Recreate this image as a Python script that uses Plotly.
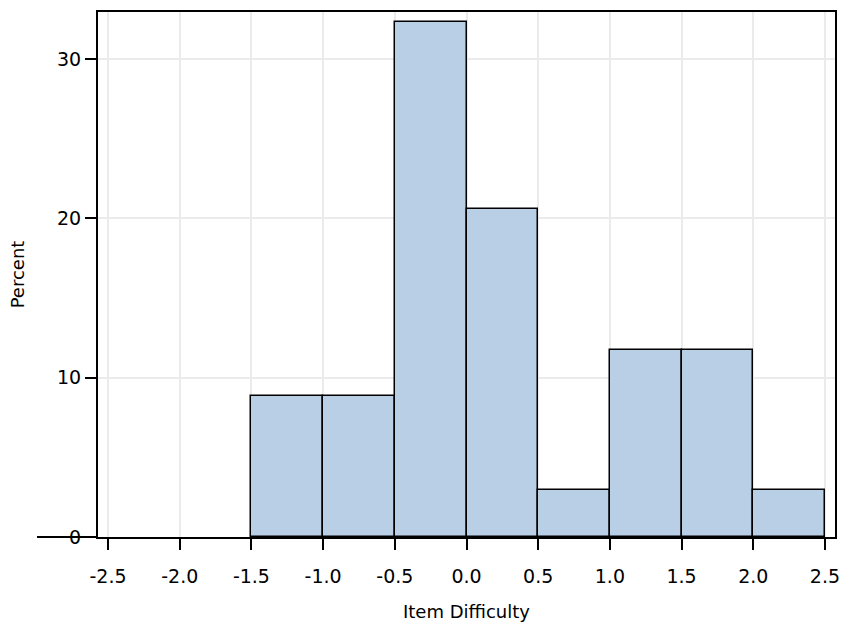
import plotly.graph_objects as go

bin_starts = [-1.5, -1.0, -0.5, 0.0, 0.5, 1.0, 1.5, 2.0]
bin_width = 0.5
percents = [8.82, 8.82, 32.35, 20.59, 2.94, 11.76, 11.76, 2.94]
x_ticks = [-2.5, -2.0, -1.5, -1.0, -0.5, 0.0, 0.5, 1.0, 1.5, 2.0, 2.5]
x_tick_labels = ["-2.5", "-2.0", "-1.5", "-1.0", "-0.5", "0.0", "0.5", "1.0", "1.5", "2.0", "2.5"]
y_ticks = [0, 10, 20, 30]

centers = [s + bin_width / 2 for s in bin_starts]

fig = go.Figure()
fig.add_trace(go.Bar(
    x=centers, y=percents, width=[bin_width] * len(centers),
    marker=dict(color="#b8cfe6", line=dict(color="black", width=1.5)),
    hoverinfo="x+y",
))

font = dict(family="DejaVu Sans", size=18, color="black")
tickfont = dict(family="DejaVu Sans", size=19, color="black")
fig.update_layout(
    width=846, height=630,
    margin=dict(l=98, r=11, t=12, b=93),
    plot_bgcolor="white", paper_bgcolor="white",
    font=font, showlegend=False, bargap=0,
    xaxis=dict(
        range=[-2.57, 2.57], tickvals=x_ticks, ticktext=x_tick_labels,
        tickfont=tickfont, ticklabelstandoff=10,
        showgrid=True, gridcolor="#ebebeb", gridwidth=2,
        showline=True, linecolor="black", linewidth=2, mirror=True,
        ticks="outside", ticklen=11, tickwidth=1.5, tickcolor="black",
        zeroline=False, automargin=False,
        title=dict(text="Item Difficulty", font=font, standoff=20),
    ),
    yaxis=dict(
        range=[0, 32.95], tickvals=y_ticks, tickfont=tickfont,
        showgrid=True, gridcolor="#ebebeb", gridwidth=2,
        showline=True, linecolor="black", linewidth=2, mirror=True,
        ticks="outside", ticklen=11, tickwidth=1.5, tickcolor="black",
        zeroline=False, automargin=False,
        title=dict(text="Percent", font=font, standoff=28),
    ),
)
fig.add_shape(type="line", xref="paper", yref="paper",
              x0=(37 - 98) / 737, x1=0, y0=0, y1=0,
              line=dict(color="black", width=2))

fig.write_html("out.html", config={"displayModeBar": False},
               post_script="document.body.style.margin='0';")
